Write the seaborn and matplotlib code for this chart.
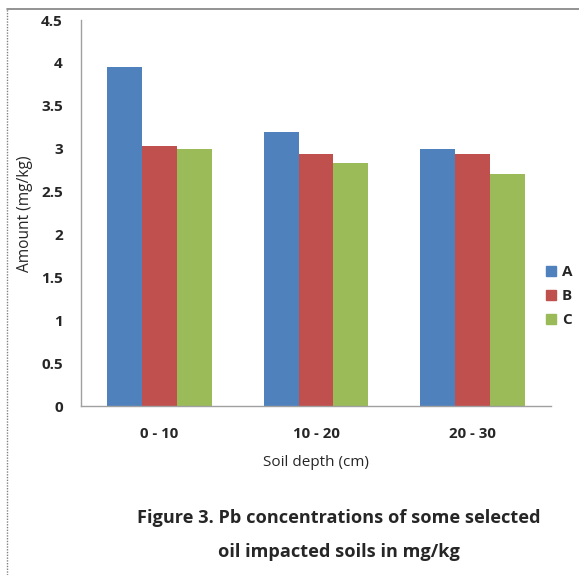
import matplotlib
matplotlib.use("Agg")
import matplotlib.pyplot as plt
import seaborn as sns
import pandas as pd
from matplotlib.lines import Line2D
from matplotlib.ticker import FixedLocator, NullFormatter

depths = ["0 - 10", "10 - 20", "20 - 30"]
series = ["A", "B", "C"]
vals_A = [3.95, 3.20, 3.00]
vals_B = [3.03, 2.94, 2.94]
vals_C = [3.00, 2.83, 2.70]
colors = ["#4F81BD", "#C0504D", "#9BBB59"]
yticks = [0, 0.5, 1, 1.5, 2, 2.5, 3, 3.5, 4, 4.5]
ytick_labels = ["0", "0.5", "1", "1.5", "2", "2.5", "3", "3.5", "4", "4.5"]

rows = []
for s, vals in zip(series, [vals_A, vals_B, vals_C]):
    for d, v in zip(depths, vals):
        rows.append({"depth": d, "series": s, "value": v})
df = pd.DataFrame(rows)

sns.set_style("white")
plt.rcParams["font.family"] = ["Open Sans", "DejaVu Sans"]

fig = plt.figure(figsize=(5.79, 5.75), dpi=100)
ax = fig.add_axes([81/579, 1-406/575, (551-81)/579, (406-20)/575])

sns.barplot(data=df, x="depth", y="value", hue="series", palette=colors,
            saturation=1, width=0.67, ax=ax, legend=True, edgecolor="none")

ax.set_ylim(0, 4.5)
ax.set_xlim(-0.5, 2.5)
ax.set_yticks(yticks)
ax.set_yticklabels(ytick_labels, fontsize=11, fontweight="bold")
ax.xaxis.set_major_locator(FixedLocator([-0.5, 0.5, 1.5, 2.5]))
ax.xaxis.set_major_formatter(NullFormatter())
ax.xaxis.set_minor_locator(FixedLocator([0, 1, 2]))
ax.set_xticklabels(depths, minor=True, fontsize=10.8, fontweight="bold")
ax.tick_params(axis="x", which="major", length=5, color="#A0A0A0", width=1, direction="out")
ax.tick_params(axis="x", which="minor", length=0, pad=15)
ax.tick_params(axis="y", length=5, color="#A0A0A0", width=1, direction="out", pad=8)

for sp in ["top", "right"]:
    ax.spines[sp].set_visible(False)
for sp in ["left", "bottom"]:
    ax.spines[sp].set_color("#A0A0A0")
    ax.spines[sp].set_linewidth(1)

ax.set_xlabel("Soil depth (cm)", fontsize=11)
ax.xaxis.set_label_coords(0.5, -(463-406)/386, transform=ax.transAxes)
ax.set_ylabel("Amount (mg/kg)", fontsize=11.2)
ax.yaxis.set_label_coords(-(81-25)/470, (406-214)/386, transform=ax.transAxes)
ax.yaxis.label.set_verticalalignment("center")
ax.xaxis.label.set_verticalalignment("center")

handles = [Line2D([0], [0], marker="s", linestyle="none", markersize=7.5,
                  markerfacecolor=c, markeredgecolor=c) for c in colors]
ax.legend(handles, series, loc="center left", bbox_to_anchor=(530/579, 1-296/575),
          bbox_transform=fig.transFigure, frameon=False, handletextpad=0.2,
          labelspacing=0.65, prop={"weight": "bold", "size": 11}, handlelength=1)

fig.text(339/579, 1-518/575, "Figure 3. Pb concentrations of some selected",
         ha="center", va="center", fontsize=13.1, fontweight="bold")
fig.text(339/579, 1-552/575, "oil impacted soils in mg/kg",
         ha="center", va="center", fontsize=13.1, fontweight="bold")

# outer border (left & top)
fig.add_artist(Line2D([7.5/579, 7.5/579], [0, 1-9/575], color="#808080", lw=1,
                      linestyle=(0, (1, 1)), transform=fig.transFigure))
fig.add_artist(Line2D([7.5/579, 1], [1-9/575, 1-9/575], color="#808080", lw=1.2,
                      transform=fig.transFigure))

fig.savefig("out.png", dpi=100)
